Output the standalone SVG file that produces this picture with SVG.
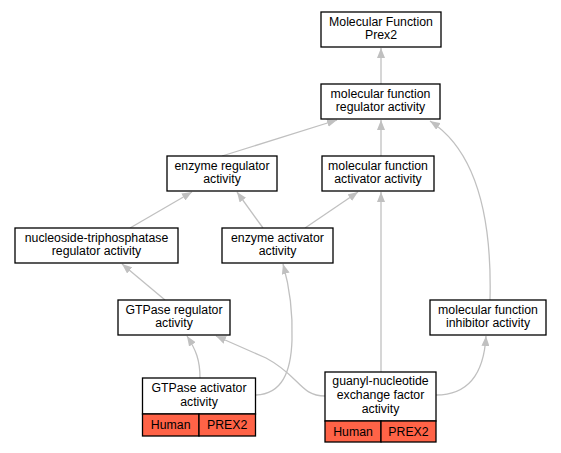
<svg xmlns="http://www.w3.org/2000/svg" width="561" height="453" viewBox="0 0 561 453">
<style>
.n rect{fill:#fff;stroke:#000;stroke-width:1.3}
.n rect.r{fill:#ff6347}
text{font-family:"Liberation Sans",Arial,sans-serif;font-size:12.3px;text-anchor:middle;fill:#000}
#edges path{fill:none;stroke:#c0c0c0;stroke-width:1.3;marker-end:url(#a)}
</style>
<defs>
<marker id="a" viewBox="0 0 10 8" refX="10" refY="4" markerWidth="10" markerHeight="8" markerUnits="userSpaceOnUse" orient="auto">
<path d="M0,0 L10,4 L0,8 Z" fill="#c0c0c0"/>
</marker>
</defs>
<rect width="561" height="453" fill="#fff"/>
<g id="edges">
<path d="M381,84 L381,48"/>
<path d="M222,156 L337,120"/>
<path d="M381,156 L381,120"/>
<path d="M490,300 C492,220 478,152 430,121"/>
<path d="M130,228 L192,192"/>
<path d="M263,228 L237,192"/>
<path d="M305,228 L358,192"/>
<path d="M165,300 L122,264"/>
<path d="M200,378 C200,360 196,350 187,336"/>
<path d="M256,395 C282,394 291,372 292,340 C293,310 289,285 283,264"/>
<path d="M325,396 C300,396 300,376 266,358 L216,336"/>
<path d="M381,372 L381,192"/>
<path d="M436,395 C470,395 484,372 486,336"/>
</g>
<g id="mf_prex2" class="n"><rect x="321" y="12" width="120" height="35"/><text x="381" y="25.6">Molecular Function</text><text x="381" y="39.4">Prex2</text></g>
<g id="mf_reg" class="n"><rect x="321" y="84" width="119" height="35"/><text x="380.5" y="97.6">molecular function</text><text x="380.5" y="111.4">regulator activity</text></g>
<g id="enz_reg" class="n"><rect x="167" y="156" width="110" height="35"/><text x="222" y="169.6">enzyme regulator</text><text x="222" y="183.4">activity</text></g>
<g id="mf_act" class="n"><rect x="322" y="156" width="112" height="35"/><text x="378" y="169.6">molecular function</text><text x="378" y="183.4">activator activity</text></g>
<g id="ntp_reg" class="n"><rect x="15" y="228" width="163" height="35"/><text x="96.5" y="241.6">nucleoside-triphosphatase</text><text x="96.5" y="255.4">regulator activity</text></g>
<g id="enz_act" class="n"><rect x="222" y="228" width="111" height="35"/><text x="277.5" y="241.6">enzyme activator</text><text x="277.5" y="255.4">activity</text></g>
<g id="gtp_reg" class="n"><rect x="118" y="300" width="112" height="35"/><text x="174" y="313.6">GTPase regulator</text><text x="174" y="327.4">activity</text></g>
<g id="mf_inh" class="n"><rect x="430" y="300" width="116" height="35"/><text x="488" y="313.6">molecular function</text><text x="488" y="327.4">inhibitor activity</text></g>
<g id="gtp_act" class="n"><rect x="142.5" y="378" width="113" height="36"/><text x="199" y="392">GTPase activator</text><text x="199" y="405.8">activity</text><rect class="r" x="142.5" y="414" width="56.5" height="22"/><rect class="r" x="199" y="414" width="56.5" height="22"/><text x="170.7" y="429">Human</text><text x="227.2" y="429">PREX2</text></g>
<g id="gef" class="n"><rect x="325" y="372" width="111" height="49"/><text x="380.5" y="385.4">guanyl-nucleotide</text><text x="380.5" y="399.2">exchange factor</text><text x="380.5" y="413">activity</text><rect class="r" x="325" y="421" width="56" height="21"/><rect class="r" x="381" y="421" width="55" height="21"/><text x="353" y="435.5">Human</text><text x="408.5" y="435.5">PREX2</text></g>
</svg>
